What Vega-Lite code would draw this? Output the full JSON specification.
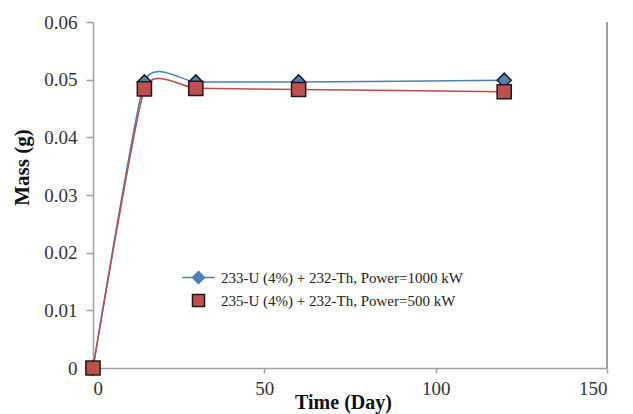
{
  "$schema": "https://vega.github.io/schema/vega-lite/v6.json",
  "autosize": {"type": "none"},
  "padding": {"left": 93, "top": 22, "right": 26, "bottom": 46},
  "width": 514,
  "height": 346,
  "background": "white",
  "config": {
    "view": {"stroke": null},
    "font": "Liberation Serif",
    "axis": {
      "grid": false,
      "domainColor": "#a0a0a0",
      "domainWidth": 1.5,
      "tickColor": "#a0a0a0",
      "tickWidth": 1.5,
      "labelFont": "Liberation Serif",
      "labelFontSize": 19,
      "labelColor": "#333333",
      "titleFont": "Liberation Serif",
      "titleFontSize": 21,
      "titleFontWeight": "bold",
      "titleColor": "#111111"
    },
    "legend": {
      "labelFont": "Liberation Serif",
      "labelFontSize": 15,
      "labelColor": "#222222",
      "labelLimit": 0
    }
  },
  "data": {
    "values": [
      {"series": "233-U (4%) + 232-Th, Power=1000 kW", "day": 0, "mass": 0},
      {"series": "233-U (4%) + 232-Th, Power=1000 kW", "day": 15, "mass": 0.0496},
      {"series": "233-U (4%) + 232-Th, Power=1000 kW", "day": 30, "mass": 0.0496},
      {"series": "233-U (4%) + 232-Th, Power=1000 kW", "day": 60, "mass": 0.0496},
      {"series": "233-U (4%) + 232-Th, Power=1000 kW", "day": 120, "mass": 0.0499},
      {"series": "235-U (4%) + 232-Th, Power=500 kW", "day": 0, "mass": 0},
      {"series": "235-U (4%) + 232-Th, Power=500 kW", "day": 15, "mass": 0.0484},
      {"series": "235-U (4%) + 232-Th, Power=500 kW", "day": 30, "mass": 0.0485},
      {"series": "235-U (4%) + 232-Th, Power=500 kW", "day": 60, "mass": 0.0483},
      {"series": "235-U (4%) + 232-Th, Power=500 kW", "day": 120, "mass": 0.0479}
    ]
  },
  "encoding": {
    "x": {
      "field": "day", "type": "quantitative",
      "scale": {"domain": [0, 150], "nice": false, "zero": false},
      "axis": {"values": [0, 50, 100, 150], "title": "Time (Day)", "titleFontSize": 20, "tickSize": 5, "labelPadding": 6, "titleX": 250, "titleY": 34, "titleAlign": "center", "titleBaseline": "middle"}
    },
    "y": {
      "field": "mass", "type": "quantitative",
      "scale": {"domain": [0, 0.06], "nice": false},
      "axis": {"values": [0, 0.01, 0.02, 0.03, 0.04, 0.05, 0.06], "labelExpr": "datum.value == 0 ? '0' : format(datum.value, '.2f')", "title": "Mass (g)", "tickSize": 7, "labelPadding": 9, "titleX": -71, "titleY": 145, "titleAlign": "center", "titleBaseline": "middle"}
    }
  },
  "layer": [
    {
      "mark": {"type": "rule", "color": "#a0a0a0", "strokeWidth": 1.5},
      "encoding": {"x": {"datum": 150}, "y": {"datum": 0}, "y2": {"datum": 0.06}}
    },
    {
      "mark": {"type": "line", "interpolate": "cardinal", "tension": 0.5, "strokeWidth": 1.5},
      "encoding": {
        "color": {"field": "series", "type": "nominal", "scale": {"range": ["#4a7ebb", "#be4b48"]}, "legend": null}
      }
    },
    {
      "mark": {"type": "point", "filled": true, "size": 200, "strokeWidth": 1.5, "opacity": 1},
      "encoding": {
        "shape": {"field": "series", "type": "nominal", "scale": {"range": ["diamond", "square"]}, "legend": null},
        "fill": {"field": "series", "type": "nominal", "scale": {"range": ["#4f81bd", "#c0504d"]}, "legend": null},
        "stroke": {"value": "#1a1a1a"}
      }
    },
    {
      "transform": [{"filter": "datum.day < 0"}],
      "mark": {"type": "point", "filled": true, "strokeWidth": 1.5, "opacity": 1},
      "encoding": {
        "shape": {
          "field": "series", "type": "nominal",
          "scale": {"domain": ["233-U (4%) + 232-Th, Power=1000 kW", "235-U (4%) + 232-Th, Power=500 kW"], "range": ["M-2.7,0H-0.9M0.9,0H2.7M0,-1L1,0L0,1L-1,0Z", "square"]},
          "legend": {
            "title": null,
            "orient": "none",
            "legendX": 98,
            "legendY": 248,
            "padding": 0,
            "rowPadding": 4,
            "symbolSize": 144,
            "labelOffset": 15,
            "symbolStrokeWidth": 1.5,
            "symbolOpacity": 1
          }
        },
        "fill": {
          "field": "series", "type": "nominal",
          "scale": {"domain": ["233-U (4%) + 232-Th, Power=1000 kW", "235-U (4%) + 232-Th, Power=500 kW"], "range": ["#4f81bd", "#c0504d"]}
        },
        "stroke": {
          "field": "series", "type": "nominal",
          "scale": {"domain": ["233-U (4%) + 232-Th, Power=1000 kW", "235-U (4%) + 232-Th, Power=500 kW"], "range": ["#4a7ebb", "#1a1a1a"]}
        }
      }
    }
  ],
  "resolve": {"scale": {"color": "independent", "shape": "independent", "fill": "independent", "stroke": "independent"}}
}
